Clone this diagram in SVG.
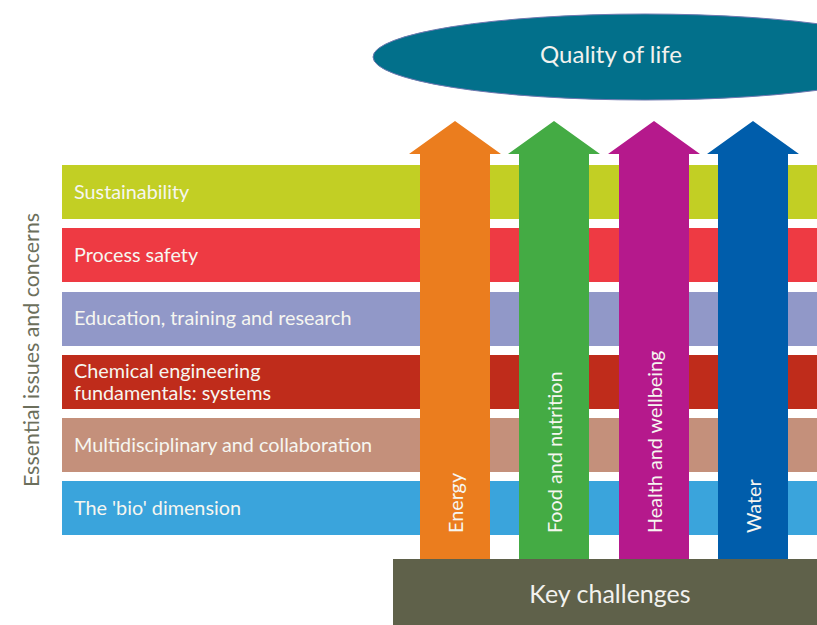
<svg xmlns="http://www.w3.org/2000/svg" width="817" height="625" viewBox="0 0 817 625">
  <style>
    text { font-family: Lato, "Open Sans", "Liberation Sans", sans-serif; }
    .band-label { fill: #f6f6f0; font-size: 19.8px; }
    .arrow-label { fill: #f6f6f0; font-size: 19.8px; }
    .title { fill: #f2f2ee; font-size: 24px; text-anchor: middle; }
    .base { fill: #f2f2ee; font-size: 25px; text-anchor: middle; }
    .side { fill: #6c6f5c; font-size: 21.4px; text-anchor: middle; }
  </style>

  <rect width="817" height="625" fill="#ffffff"/>

  <!-- Horizontal bands: essential issues and concerns -->
  <g id="band-sustainability">
    <rect x="62" y="165" width="755" height="54" fill="#c2cf24"/>
    <text class="band-label" x="74" y="199">Sustainability</text>
  </g>
  <g id="band-process-safety">
    <rect x="62" y="228" width="755" height="54" fill="#ee3a43"/>
    <text class="band-label" x="74" y="262">Process safety</text>
  </g>
  <g id="band-education">
    <rect x="62" y="292" width="755" height="54" fill="#9198c8"/>
    <text class="band-label" x="74" y="325">Education, training and research</text>
  </g>
  <g id="band-fundamentals">
    <rect x="62" y="355" width="755" height="54" fill="#bf2c1b"/>
    <text class="band-label" x="74" y="378">Chemical engineering</text>
    <text class="band-label" x="74" y="400">fundamentals: systems</text>
  </g>
  <g id="band-multidisciplinary">
    <rect x="62" y="418" width="755" height="54" fill="#c4907b"/>
    <text class="band-label" x="74" y="452">Multidisciplinary and collaboration</text>
  </g>
  <g id="band-bio">
    <rect x="62" y="481" width="755" height="54" fill="#3aa4dc"/>
    <text class="band-label" x="74" y="515">The 'bio' dimension</text>
  </g>

  <!-- Side caption -->
  <g id="side-caption">
    <text class="side" transform="translate(39,350) rotate(-90)">Essential issues and concerns</text>
  </g>

  <!-- Upward arrows: key challenges -->
  <g id="arrow-energy">
    <polygon points="420,560 420,154 409,154 455,121 501,154 490,154 490,560" fill="#eb7d1e"/>
    <text class="arrow-label" transform="translate(463,533) rotate(-90)">Energy</text>
  </g>
  <g id="arrow-food">
    <polygon points="519,560 519,154 508,154 554,121 600,154 589,154 589,560" fill="#44ab44"/>
    <text class="arrow-label" transform="translate(562,533) rotate(-90)">Food and nutrition</text>
  </g>
  <g id="arrow-health">
    <polygon points="619,560 619,154 608,154 654,121 700,154 689,154 689,560" fill="#b5198c"/>
    <text class="arrow-label" transform="translate(662,533) rotate(-90)">Health and wellbeing</text>
  </g>
  <g id="arrow-water">
    <polygon points="718,560 718,154 707,154 753,121 799,154 788,154 788,560" fill="#005dab"/>
    <text class="arrow-label" transform="translate(761,533) rotate(-90)">Water</text>
  </g>

  <!-- Goal -->
  <g id="quality-of-life">
    <ellipse cx="645" cy="57" rx="272" ry="43" fill="#02708b" stroke="#6f78b0" stroke-width="1"/>
    <text class="title" x="611" y="63">Quality of life</text>
  </g>

  <!-- Base -->
  <g id="key-challenges">
    <rect x="393" y="559" width="424" height="66" fill="#5f614a"/>
    <text class="base" x="610" y="603">Key challenges</text>
  </g>

  <g id="connectors"/>
</svg>
